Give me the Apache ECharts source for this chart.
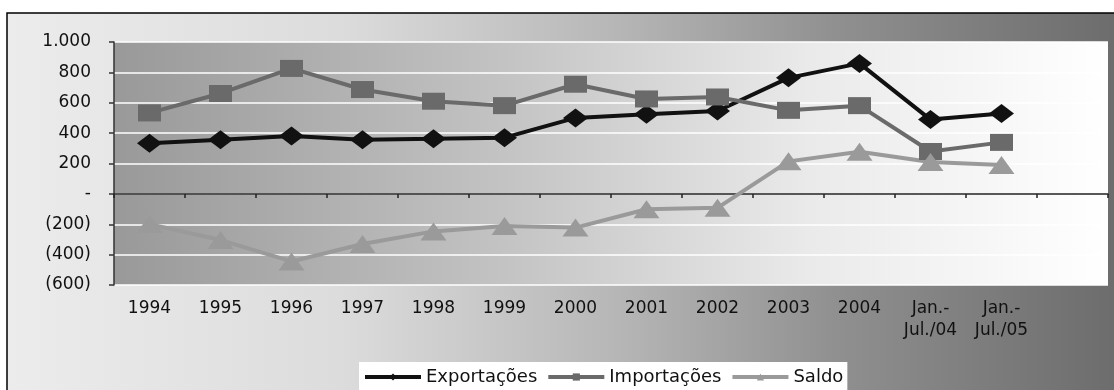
<!DOCTYPE html>
<html>
<head>
<meta charset="utf-8">
<script src="https://cdn.jsdelivr.net/npm/echarts@6/dist/echarts.min.js"></script>
<style>
html,body{margin:0;padding:0;background:#fff;}
#chart{width:1114px;height:390px;}
</style>
</head>
<body>
<div id="chart"></div>
<script>
var categories = ['1994','1995','1996','1997','1998','1999','2000','2001','2002','2003','2004','Jan.-\nJul./04','Jan.-\nJul./05',''];
var exportacoes = [334, 357, 381, 357, 363, 370, 500, 524, 546, 764, 859, 489, 529];
var importacoes = [533, 661, 826, 687, 610, 581, 722, 625, 638, 550, 581, 279, 339];
var saldo = [-199, -304, -445, -330, -247, -211, -222, -101, -92, 214, 278, 210, 190];
var seriesNames = ['Exportações', 'Importações', 'Saldo'];
var yMin = -600, yMax = 1000, yStep = 200;

function fmtY(v) {
  if (v === 0) return '-';
  var a = Math.abs(v);
  var s = a >= 1000 ? Math.floor(a / 1000) + '.' + String(a % 1000).padStart(3, '0') : String(a);
  return v < 0 ? '(' + s + ')' : s;
}

var FONT = 'DejaVu Sans';
var chart = echarts.init(document.getElementById('chart'));
var option = {
  backgroundColor: '#ffffff',
  animation: false,
  graphic: [{
    type: 'rect',
    z: -10,
    silent: true,
    shape: { x: 7, y: 13, width: 1112, height: 400 },
    style: {
      fill: new echarts.graphic.LinearGradient(0, 0, 1, 0, [
        { offset: 0, color: '#ececec' },
        { offset: 0.3, color: '#dcdcdc' },
        { offset: 0.55, color: '#b6b6b6' },
        { offset: 0.75, color: '#8f8f8f' },
        { offset: 1, color: '#6c6c6c' }
      ]),
      stroke: '#000',
      lineWidth: 1.5
    }
  }],
  grid: {
    left: 114, top: 42, right: 6, bottom: 105,
    show: true,
    borderWidth: 0,
    backgroundColor: new echarts.graphic.LinearGradient(0, 0, 1, 0, [
      { offset: 0, color: '#999999' },
      { offset: 0.4, color: '#c4c4c4' },
      { offset: 0.7, color: '#eaeaea' },
      { offset: 1, color: '#ffffff' }
    ])
  },
  legend: {
    data: seriesNames,
    left: 359,
    top: 362,
    padding: [6, 4, 12, 4],
    backgroundColor: '#ffffff',
    itemWidth: 56,
    itemHeight: 9,
    itemGap: 9,
    lineStyle: { width: 4 },
    textStyle: { fontFamily: FONT, fontSize: 18, color: '#111' }
  },
  xAxis: [{
    type: 'category',
    data: categories,
    position: 'top',
    boundaryGap: true,
    axisLine: { onZero: true, lineStyle: { color: '#222', width: 1.5 } },
    axisTick: { show: true, inside: true, length: 4, lineStyle: { color: '#222', width: 1.5 } },
    axisLabel: { show: false },
    splitLine: { show: false },
    splitArea: { show: false }
  }, {
    type: 'category',
    data: categories,
    position: 'bottom',
    boundaryGap: true,
    axisLine: { show: false, onZero: false },
    axisTick: { show: false },
    axisLabel: {
      interval: 0, margin: 13,
      fontFamily: FONT, fontSize: 17, color: '#111', lineHeight: 22
    },
    splitLine: { show: false },
    splitArea: { show: false }
  }],
  yAxis: {
    type: 'value',
    min: yMin, max: yMax, interval: yStep,
    axisLine: { show: true, lineStyle: { color: '#333', width: 1.5 } },
    axisTick: { show: true, length: 5, lineStyle: { color: '#333', width: 1.5 } },
    axisLabel: {
      formatter: fmtY, margin: 23,
      fontFamily: FONT, fontSize: 17, color: '#111'
    },
    splitLine: { show: true, lineStyle: { color: '#ffffff', width: 1.5 } },
    splitArea: { show: false }
  },
  series: [{
    name: seriesNames[0], type: 'line', xAxisIndex: 0,
    data: exportacoes,
    symbol: 'diamond', symbolSize: [25, 19], showAllSymbol: true,
    lineStyle: { color: '#111111', width: 4 },
    itemStyle: { color: '#111111' }
  }, {
    name: seriesNames[1], type: 'line', xAxisIndex: 0,
    data: importacoes,
    symbol: 'rect', symbolSize: [23, 17], showAllSymbol: true,
    lineStyle: { color: '#6a6a6a', width: 4 },
    itemStyle: { color: '#6a6a6a' }
  }, {
    name: seriesNames[2], type: 'line', xAxisIndex: 0,
    data: saldo,
    symbol: 'triangle', symbolSize: [26, 18], showAllSymbol: true,
    lineStyle: { color: '#9a9a9a', width: 4 },
    itemStyle: { color: '#9a9a9a' }
  }]
};
chart.setOption(option);
</script>
</body>
</html>
